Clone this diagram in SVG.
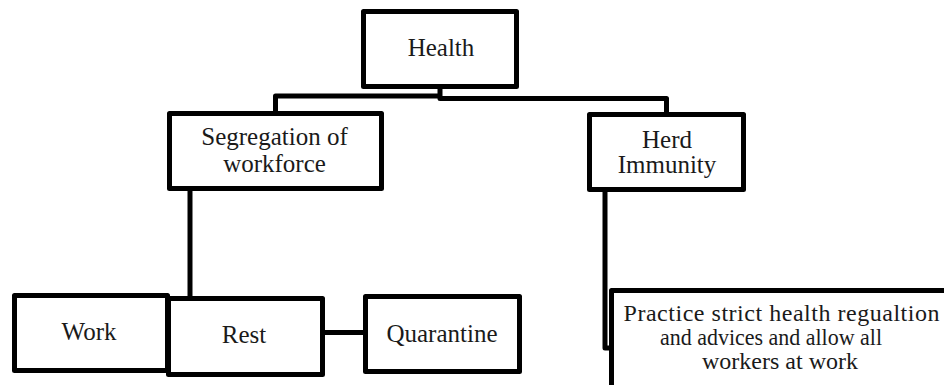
<svg xmlns="http://www.w3.org/2000/svg" width="944" height="385" viewBox="0 0 944 385">
  <style>
    .box { fill: #ffffff; stroke: #000000; stroke-width: 5; stroke-linejoin: round; }
    .wire { fill: none; stroke: #000000; stroke-width: 5; stroke-linejoin: round; }
    .label { font-family: 'Liberation Serif', 'DejaVu Serif', serif; font-size: 25px; fill: #1a1a1a; text-anchor: middle; }
    .small { font-size: 24px; }
  </style>
  <rect width="944" height="385" fill="#ffffff"/>

  <!-- connectors -->
  <g id="connectors">
    <path class="wire" d="M440,88 V96 H275.5 V112"/>
    <path class="wire" d="M440,96 V98.5 H666.5 V114"/>
    <path class="wire" d="M190,190 V297"/>
    <path class="wire" d="M605,191 V348 H611"/>
    <path class="wire" d="M323,332.5 H366"/>
  </g>

  <g id="health">
    <rect class="box" x="363.5" y="11.5" width="153" height="75"/>
    <text class="label" x="441" y="56">Health</text>
  </g>

  <g id="segregation">
    <rect class="box" x="169.5" y="113.5" width="212" height="75"/>
    <text class="label" x="274.5" y="145">Segregation of</text>
    <text class="label" x="274.5" y="172">workforce</text>
  </g>

  <g id="herd-immunity">
    <rect class="box" x="589.5" y="114.5" width="154" height="75"/>
    <text class="label" x="667" y="148">Herd</text>
    <text class="label" x="667" y="173">Immunity</text>
  </g>

  <g id="work">
    <rect class="box" x="14.5" y="295.5" width="153" height="75"/>
    <text class="label" x="89" y="340">Work</text>
  </g>

  <g id="rest">
    <rect class="box" x="168.5" y="298.5" width="154" height="76"/>
    <text class="label" x="244" y="343">Rest</text>
  </g>

  <g id="quarantine">
    <rect class="box" x="365.5" y="296.5" width="154" height="75"/>
    <text class="label" x="442" y="342">Quarantine</text>
  </g>

  <g id="practice">
    <rect class="box" x="611.5" y="290.5" width="345" height="110"/>
    <text class="label small" x="781.5" y="321" textLength="316" lengthAdjust="spacing">Practice strict health regualtion</text>
    <text class="label small" x="771" y="345" textLength="222" lengthAdjust="spacingAndGlyphs">and advices and allow all</text>
    <text class="label small" x="780" y="369">workers at work</text>
  </g>
</svg>
